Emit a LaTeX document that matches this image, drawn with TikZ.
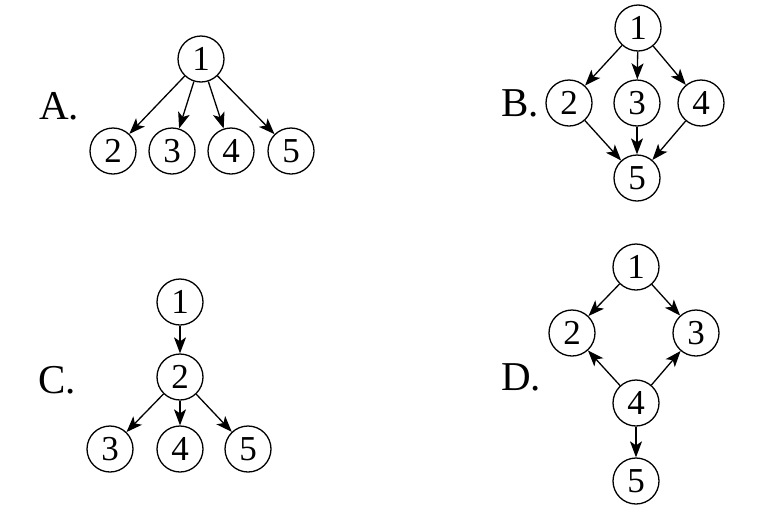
\documentclass[tikz,border=0pt]{standalone}
\usepackage{fontspec}
\setmainfont{Liberation Serif}
\usetikzlibrary{arrows.meta}
\begin{document}
\begin{tikzpicture}[x=1pt,y=-1pt,
  vtx/.style={circle,draw,line width=1.3pt,minimum size=46pt,inner sep=0pt,font=\fontsize{35}{35}\selectfont},
  lbl/.style={font=\fontsize{41}{41}\selectfont,inner sep=0pt},
  edge/.style={line width=1.3pt,-{Stealth[length=16pt,width=12pt,inset=4pt]}}]
\useasboundingbox (0,0) rectangle (762,512);
% A
\node[lbl] (la) at (59,106) {A.};
\node[vtx] (a1) at (201,59) {1};
\node[vtx] (a2) at (113,151) {2};
\node[vtx] (a3) at (172,151) {3};
\node[vtx] (a4) at (231,151) {4};
\node[vtx] (a5) at (291,151) {5};
\foreach \t in {a2,a3,a4,a5} \draw[edge] (a1) -- (\t);
% B
\node[lbl] (lb) at (520,103) {B.};
\node[vtx] (b1) at (638,28) {1};
\node[vtx] (b2) at (569,103) {2};
\node[vtx] (b3) at (637,103) {3};
\node[vtx] (b4) at (701,103) {4};
\node[vtx] (b5) at (637,178) {5};
\foreach \t in {b2,b3,b4} \draw[edge] (b1) -- (\t);
\foreach \s in {b2,b3,b4} \draw[edge] (\s) -- (b5);
% C
\node[lbl] (lc) at (57,380) {C.};
\node[vtx] (c1) at (180,302) {1};
\node[vtx] (c2) at (180,377) {2};
\node[vtx] (c3) at (110,449) {3};
\node[vtx] (c4) at (180,449) {4};
\node[vtx] (c5) at (248,449) {5};
\draw[edge] (c1) -- (c2);
\foreach \t in {c3,c4,c5} \draw[edge] (c2) -- (\t);
% D
\node[lbl] (ld) at (521,377) {D.};
\node[vtx] (d1) at (636,267) {1};
\node[vtx] (d2) at (572,333) {2};
\node[vtx] (d3) at (696,333) {3};
\node[vtx] (d4) at (636,403) {4};
\node[vtx] (d5) at (636,481) {5};
\draw[edge] (d1) -- (d2);
\draw[edge] (d1) -- (d3);
\draw[edge] (d4) -- (d2);
\draw[edge] (d4) -- (d3);
\draw[edge] (d4) -- (d5);
\end{tikzpicture}
\end{document}
